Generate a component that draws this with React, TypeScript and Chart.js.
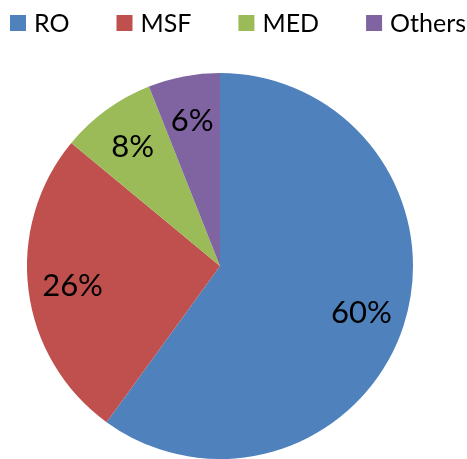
import React, { useEffect, useRef } from "react";
import { Chart, registerables } from "chart.js";

Chart.register(...registerables);

const categories = ["RO", "MSF", "MED", "Others"];
const shares = [60, 26, 8, 6];
const sliceColors = ["#4F81BD", "#C0504D", "#9BBB59", "#8064A2"];

const FONT = "Lato, 'Open Sans', sans-serif";

const legendPlugin = {
  id: "topLegend",
  afterDraw(chart: any) {
    const ctx = chart.ctx;
    const labels: string[] = chart.data.labels;
    const colors: string[] = chart.data.datasets[0].backgroundColor;
    const box = 16;
    const boxGap = 8;
    const itemGap = 47;
    const cy = 23;
    ctx.save();
    ctx.font = `25px ${FONT}`;
    ctx.textBaseline = "middle";
    ctx.textAlign = "left";
    const widths = labels.map((l) => ctx.measureText(l).width);
    const total =
      widths.reduce((a, w) => a + box + boxGap + w, 0) + itemGap * (labels.length - 1);
    let x = 238 - total / 2;
    labels.forEach((l, i) => {
      ctx.fillStyle = colors[i];
      ctx.fillRect(x, cy - box / 2, box, box);
      x += box + boxGap;
      ctx.fillStyle = "#000000";
      ctx.fillText(l, x, cy + 1);
      x += widths[i] + itemGap;
    });
    ctx.restore();
  },
};

const sliceLabelPlugin = {
  id: "sliceLabels",
  afterDatasetsDraw(chart: any) {
    const ctx = chart.ctx;
    const meta = chart.getDatasetMeta(0);
    const data: number[] = chart.data.datasets[0].data;
    ctx.save();
    ctx.font = `31px ${FONT}`;
    ctx.fillStyle = "#000000";
    ctx.textAlign = "center";
    ctx.textBaseline = "middle";
    meta.data.forEach((arc: any, i: number) => {
      const { x, y, startAngle, endAngle, outerRadius } = arc.getProps(
        ["x", "y", "startAngle", "endAngle", "outerRadius"],
        true
      );
      const mid = (startAngle + endAngle) / 2;
      const r = outerRadius * 0.77;
      ctx.fillText(`${data[i]}%`, x + Math.cos(mid) * r, y + Math.sin(mid) * r + 1);
    });
    ctx.restore();
  },
};

export default function App() {
  const canvasRef = useRef<HTMLCanvasElement | null>(null);

  useEffect(() => {
    document.body.style.margin = "0";
    document.body.style.background = "#ffffff";
    const canvas = canvasRef.current;
    if (!canvas) return;
    const chart = new Chart(canvas, {
      type: "pie",
      data: {
        labels: categories,
        datasets: [
          {
            data: shares,
            backgroundColor: sliceColors,
            borderWidth: 0,
          },
        ],
      },
      options: {
        responsive: false,
        maintainAspectRatio: false,
        animation: false,
        layout: { padding: { top: 73, bottom: 0, left: 27, right: 54 } },
        plugins: {
          legend: { display: false },
          tooltip: { enabled: false },
          title: { display: false },
        },
      },
      plugins: [legendPlugin, sliceLabelPlugin],
    });
    return () => chart.destroy();
  }, []);

  return (
    <div style={{ width: 467, height: 459, background: "#ffffff" }}>
      <canvas ref={canvasRef} width={467} height={459} style={{ display: "block" }} />
    </div>
  );
}
